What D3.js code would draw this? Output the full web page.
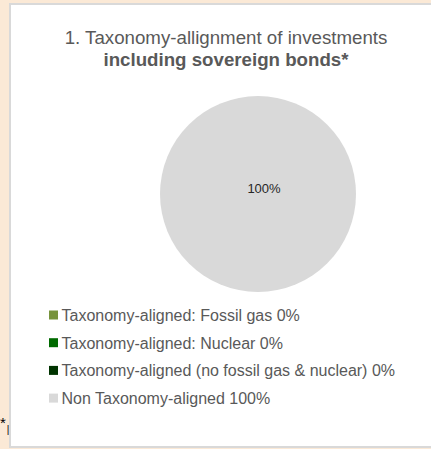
<!DOCTYPE html>
<html>
<head>
<meta charset="utf-8">
<script src="https://cdn.jsdelivr.net/npm/d3@7"></script>
<style>
html,body{margin:0;padding:0;background:#fbe9d6;}
svg{display:block;}
text{font-family:"Liberation Sans",Arial,sans-serif;}
</style>
</head>
<body>
<svg id="chart" width="431" height="449"></svg>
<script>
const titleLines = ["1. Taxonomy-allignment of investments", "including sovereign bonds*"];
const categories = [
  "Taxonomy-aligned: Fossil gas",
  "Taxonomy-aligned: Nuclear",
  "Taxonomy-aligned (no fossil gas & nuclear)",
  "Non Taxonomy-aligned"
];
const values = [0, 0, 0, 100];
const colors = ["#77933c", "#006a00", "#003300", "#d9d9d9"];

const svg = d3.select("#chart");

// footnote text partially hidden behind the panel
const fn = svg.append("text").attr("x", 0).attr("y", 428)
  .attr("font-size", 15).attr("fill", "#000");
fn.append("tspan").text("*");
fn.append("tspan").attr("font-size", 10).attr("dy", 5).attr("dx", 1).text("|");

// panel
svg.append("rect").attr("x", 10).attr("y", 4).attr("width", 440).attr("height", 443)
  .attr("fill", "#fff").attr("stroke", "#d9d9d9").attr("stroke-width", 2);

// title
const t = svg.append("text").attr("text-anchor", "middle").attr("fill", "#595959").attr("font-size", 18.7);
t.append("tspan").attr("x", 226).attr("y", 44).text(titleLines[0]);
t.append("tspan").attr("x", 226).attr("y", 66).attr("font-weight", "bold").text(titleLines[1]);

// pie
const cx = 258, cy = 194, r = 98;
const pie = d3.pie().sort(null).value(d => d)(values);
const arc = d3.arc().innerRadius(0).outerRadius(r);
const g = svg.append("g").attr("transform", `translate(${cx},${cy})`);
g.selectAll("path").data(pie).join("path")
  .attr("d", arc).attr("fill", (d, i) => colors[i]);
g.selectAll("text.lbl").data(pie.filter(d => d.value > 0)).join("text")
  .attr("class", "lbl").attr("text-anchor", "middle")
  .attr("x", 6).attr("y", -1.5)
  .attr("font-size", 13).attr("fill", "#262626")
  .text(d => d3.format(".0f")(d.value) + "%");

// legend
const leg = svg.append("g");
const items = leg.selectAll("g").data(categories).join("g")
  .attr("transform", (d, i) => `translate(49,${315 + i * 27.7})`);
items.append("rect").attr("x", 0).attr("y", -4.5).attr("width", 9).attr("height", 9)
  .attr("fill", (d, i) => colors[i]);
items.append("text").attr("x", 12.5).attr("y", 5.8).attr("font-size", 16).attr("fill", "#595959")
  .text((d, i) => d + " " + values[i] + "%");
</script>
</body>
</html>
